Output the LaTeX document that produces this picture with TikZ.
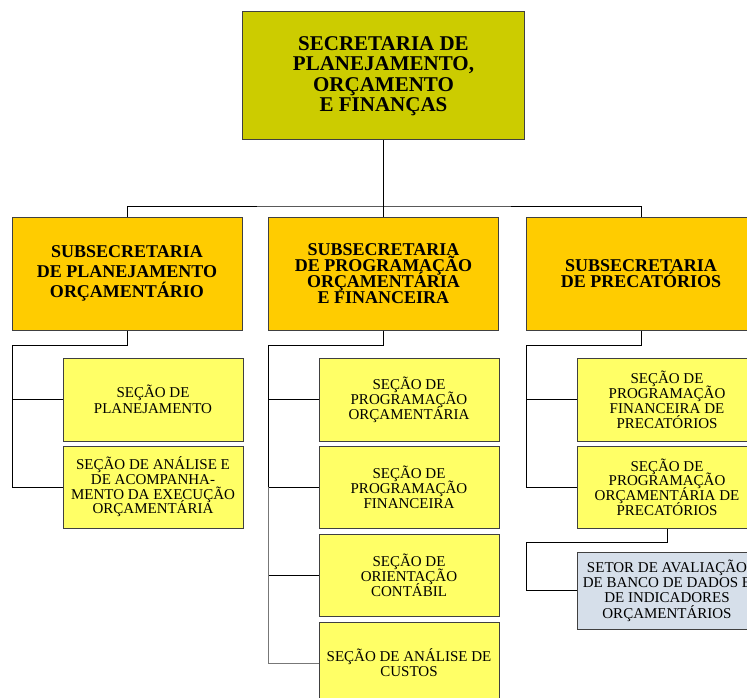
\documentclass[tikz,border=0pt]{standalone}
\usepackage{fontspec}
\setmainfont{Liberation Serif}
\definecolor{topc}{HTML}{CCCC00}
\definecolor{subc}{HTML}{FFCC00}
\definecolor{secc}{HTML}{FFFF66}
\definecolor{setc}{HTML}{D6DFEA}
\definecolor{bord}{HTML}{404040}
\definecolor{lgray}{HTML}{777777}
\tikzset{
  topbox/.style={draw=bord, line width=1pt, fill=topc, minimum width=282pt, minimum height=128pt, inner sep=0pt, align=center, font=\fontsize{21}{20.5}\selectfont\bfseries},
  subbox/.style={draw=bord, line width=1pt, fill=subc, minimum width=230pt, minimum height=113pt, inner sep=0pt, align=center, font=\fontsize{18}{16}\selectfont\bfseries},
  subwide/.style={font=\fontsize{18}{20}\selectfont\bfseries},
  secbox/.style={draw=bord, line width=1pt, fill=secc, minimum width=180pt, minimum height=82pt, inner sep=0pt, align=center, font=\fontsize{15}{15}\selectfont},
  sectight/.style={font=\fontsize{15}{14.7}\selectfont},
  secloose/.style={font=\fontsize{15}{16}\selectfont},
  setbox/.style={draw=bord, line width=1pt, fill=setc, minimum width=180pt, minimum height=77pt, inner sep=0pt, align=center, font=\fontsize{15}{15.3}\selectfont},
  conn/.style={draw=black, line width=1pt},
  conng/.style={draw=lgray, line width=1pt}
}
\begin{document}
\lineskiplimit=-100pt\relax
\lineskip=0pt\relax
\begin{tikzpicture}[x=1pt, y=-1pt]
\useasboundingbox (0,0) rectangle (747,698);
\clip (0,0) rectangle (747,698);
\fill[white] (0,0) rectangle (747,698);

% nodes
\node[topbox] (top) at (383.5,76) {SECRETARIA DE\\PLANEJAMENTO,\\ORÇAMENTO\\E FINANÇAS};

\node[subbox, subwide] (subA) at (127,273.5) {SUBSECRETARIA\\DE PLANEJAMENTO\\ORÇAMENTÁRIO};
\node[subbox] (subB) at (383.5,273.5) {SUBSECRETARIA\\DE PROGRAMAÇÃO\\ORÇAMENTÁRIA\\E FINANCEIRA};
\node[subbox] (subC) at (641,273.5) {SUBSECRETARIA\\DE PRECATÓRIOS};

\node[secbox, secloose, minimum height=83pt] (a1) at (153,399.5) {SEÇÃO DE\\PLANEJAMENTO};
\node[secbox, sectight] (a2) at (153,487) {SEÇÃO DE ANÁLISE E\\DE ACOMPANHA-\\MENTO DA EXECUÇÃO\\ORÇAMENTÁRIA};

\node[secbox, minimum height=83pt] (b1) at (409,399.5) {SEÇÃO DE\\PROGRAMAÇÃO\\ORÇAMENTÁRIA};
\node[secbox] (b2) at (409,487) {SEÇÃO DE\\PROGRAMAÇÃO\\FINANCEIRA};
\node[secbox] (b3) at (409,575) {SEÇÃO DE\\ORIENTAÇÃO\\CONTÁBIL};
\node[secbox] (b4) at (409,663) {SEÇÃO DE ANÁLISE DE\\CUSTOS};

\node[secbox, minimum height=83pt] (c1) at (667,399.5) {SEÇÃO DE\\PROGRAMAÇÃO\\FINANCEIRA DE\\PRECATÓRIOS};
\node[secbox, sectight] (c2) at (667,487) {SEÇÃO DE\\PROGRAMAÇÃO\\ORÇAMENTÁRIA DE\\PRECATÓRIOS};
\node[setbox] (c3) at (667,590.5) {SETOR DE AVALIAÇÃO\\DE BANCO DE DADOS E\\DE INDICADORES\\ORÇAMENTÁRIOS};

% junction coordinates
\coordinate (j0) at (383.5,206);
\coordinate (ja) at (12,345);
\coordinate (jb) at (268,345);
\coordinate (jc) at (526,345);
\coordinate (jd) at (526,542);

% connectors
\draw[conn] (top.south) -- (j0);
\draw[conn] (subA.north) |- (j0) -| (subC.north);
\draw[conn] (j0) -- (subB.north);

\draw[conn] (subA.south) |- (ja) -- (ja |- a2.west) -- (a2.west);
\draw[conn] (ja |- a1.west) -- (a1.west);

\draw[conn] (subB.south) |- (jb) -- (jb |- b2.west) -- (b2.west);
\draw[conn] (jb |- b1.west) -- (b1.west);
\draw[conng] (jb |- b2.west) -- (jb |- b3.west);
\draw[conn] (jb |- b3.west) -- (b3.west);
\draw[conng] (jb |- b3.west) -- (jb |- b4.west) -- (b4.west);

\draw[conn] (subC.south) |- (jc) -- (jc |- c2.west) -- (c2.west);
\draw[conn] (jc |- c1.west) -- (c1.west);

\draw[conn] (c2.south) |- (jd) -- (jd |- c3.west) -- (c3.west);
\end{tikzpicture}
\end{document}
